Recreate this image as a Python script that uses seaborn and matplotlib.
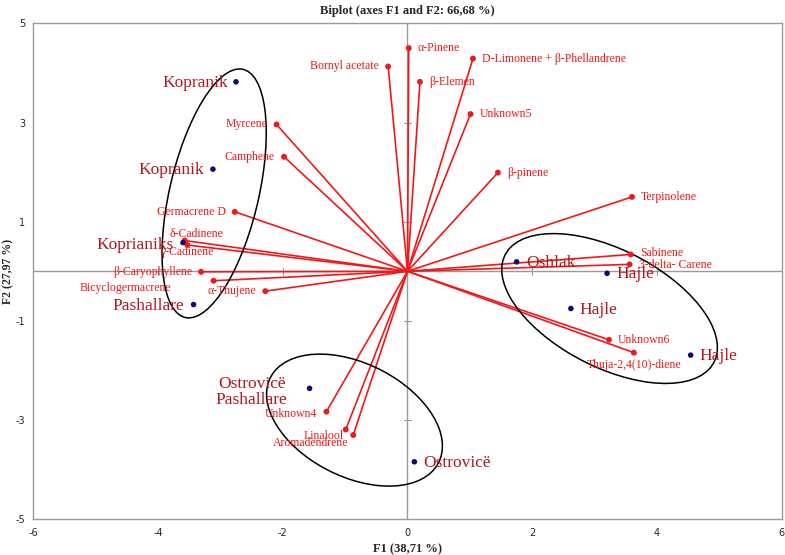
import matplotlib
matplotlib.use("Agg")
import matplotlib.pyplot as plt
from matplotlib.patches import Ellipse
import seaborn as sns
import pandas as pd

# Variables (loadings, scaled) - red
var_names = ["α-Pinene", "Bornyl acetate", "D-Limonene + β-Phellandrene", "β-Elemen",
             "Unknown5", "β-pinene", "Terpinolene", "Sabinene", "3-delta- Carene",
             "Unknown6", "Thuja-2,4(10)-diene", "Myrcene", "Camphene", "Germacrene D",
             "δ-Cadinene", "γ-Cadinene", "β-Caryophyllene", "Bicyclogermacrene",
             "α-Thujene", "Unknown4", "Linalool", "Aromadendrene"]
var_f1 = [0.02, -0.31, 1.05, 0.20, 1.01, 1.45, 3.60, 3.58, 3.56, 3.23, 3.63,
          -2.10, -1.98, -2.77, -3.57, -3.53, -3.31, -3.11, -2.28, -1.30, -0.99, -0.87]
var_f2 = [4.50, 4.13, 4.29, 3.82, 3.17, 1.99, 1.50, 0.34, 0.14, -1.38, -1.64,
          2.96, 2.31, 1.20, 0.62, 0.53, -0.01, -0.19, -0.40, -2.83, -3.19, -3.30]

# Observations (samples) - blue
obs_names = ["Kopranik", "Kopranik", "Koprianiks", "Pashallare", "Ostrovicë\nPashallare",
             "Ostrovicë", "Oshlak", "Hajle", "Hajle", "Hajle"]
obs_f1 = [-2.75, -3.12, -3.60, -3.43, -1.57, 0.11, 1.75, 3.20, 2.62, 4.54]
obs_f2 = [3.82, 2.06, 0.58, -0.67, -2.36, -3.84, 0.19, -0.04, -0.75, -1.69]

x_ticks = [-6, -4, -2, 0, 2, 4, 6]
y_ticks = [-5, -3, -1, 1, 3, 5]

# label placement: (dx px, dy px, ha)
var_pos = {
    "α-Pinene": (9, 0, "left"), "Bornyl acetate": (-9, 0, "right"),
    "D-Limonene + β-Phellandrene": (9, 0, "left"), "β-Elemen": (9, 0, "left"),
    "Unknown5": (9, 0, "left"), "β-pinene": (9, 0, "left"), "Terpinolene": (9, 0, "left"),
    "Sabinene": (9, 1, "left"), "3-delta- Carene": (9, -1, "left"),
    "Unknown6": (9, 0, "left"), "Thuja-2,4(10)-diene": (0, -12, "center"),
    "Myrcene": (-9, 0, "right"), "Camphene": (-9, 0, "right"),
    "Germacrene D": (-9, 0, "right"), "δ-Cadinene": (-15, 7, "left"),
    "γ-Cadinene": (-27, -7, "left"), "β-Caryophyllene": (-9, 0, "right"),
    "Bicyclogermacrene": (-42, -7, "right"), "α-Thujene": (-9, 0, "right"),
    "Unknown4": (-9, -2, "right"), "Linalool": (-2, -6, "right"),
    "Aromadendrene": (-5, -8, "right"),
}
obs_pos = [(-8, -1, "right"), (-9, -1, "right"), (-9, -2, "right"), (-9, -1, "right"),
           (-58, -4, "center"), (9, -1, "left"), (10, -1, "left"), (9, -1, "left"),
           (9, -1, "left"), (9, -1, "left")]

# ellipses: center, width, height, angle (data units)
ellipses = [((-3.10, 1.57), 5.09, 1.44, 80),
            ((-0.85, -3.00), 3.24, 2.13, -40.8),
            ((3.24, -0.75), 4.02, 2.22, -37.7)]

var_df = pd.DataFrame({"F1": var_f1, "F2": var_f2, "name": var_names})
obs_df = pd.DataFrame({"F1": obs_f1, "F2": obs_f2, "name": obs_names})

sns.set_style("white")
plt.rcParams["font.family"] = ["Liberation Serif", "DejaVu Serif"]
plt.rcParams["axes.unicode_minus"] = False

fig = plt.figure(figsize=(7.85, 5.55), dpi=100)
ax = fig.add_axes([0.0424, 0.0643, 0.9534, 0.8937])

grey = "#9a9a9a"
ax.axhline(0, color=grey, lw=1.0, zorder=1)
ax.axvline(0, color=grey, lw=1.0, zorder=1)
# small cross ticks on the zero lines
for t in x_ticks:
    if t not in (0, -6, 6):
        ax.plot([t, t], [-0.07, 0.07], color=grey, lw=0.8, zorder=1)
for t in y_ticks:
    if t not in (-5, 5):
        ax.plot([-0.05, 0.05], [t, t], color=grey, lw=0.8, zorder=1)

red = "#f01818"
for x, y in zip(var_f1, var_f2):
    ax.plot([0, x], [0, y], color=red, lw=1.2, zorder=2)
sns.scatterplot(data=var_df, x="F1", y="F2", color=red, s=18, edgecolor="none",
                ax=ax, zorder=3, legend=False)
sns.scatterplot(data=obs_df, x="F1", y="F2", color="#0a0a78", s=16, edgecolor="none",
                ax=ax, zorder=3, legend=False)

for name, x, y in zip(var_names, var_f1, var_f2):
    dx, dy, ha = var_pos[name]
    ax.annotate(name, (x, y), xytext=(dx, dy), textcoords="offset pixels",
                ha=ha, va="center", fontsize=8.5, color=red, zorder=4)

for (name, x, y), (dx, dy, ha) in zip(zip(obs_names, obs_f1, obs_f2), obs_pos):
    ax.annotate(name, (x, y), xytext=(dx, dy), textcoords="offset pixels",
                ha=ha, va="center", fontsize=12.5, color="#b3161c",
                multialignment="center", linespacing=1.0, zorder=4)

for c, w, h, a in ellipses:
    ax.add_patch(Ellipse(c, w, h, angle=a, fill=False, ec="black", lw=1.1, zorder=2))

ax.set_xlim(-6, 6)
ax.set_ylim(-5, 5)
ax.set_xticks(x_ticks)
ax.set_yticks(y_ticks)
ax.tick_params(labelsize=7, length=0, pad=6)
for lab in ax.get_xticklabels() + ax.get_yticklabels():
    lab.set_family("DejaVu Sans")
for s in ax.spines.values():
    s.set_color(grey)
    s.set_linewidth(1.0)

ax.set_title("Biplot (axes F1 and F2: 66,68 %)", fontsize=9, fontweight="bold", pad=7)
ax.set_xlabel("F1 (38,71 %)", fontsize=9, fontweight="bold", labelpad=4)
ax.set_ylabel("F2 (27,97 %)", fontsize=8.5, fontweight="bold")
ax.yaxis.set_label_coords(-0.0255, 0.5)

fig.savefig("out.png", dpi=100)
